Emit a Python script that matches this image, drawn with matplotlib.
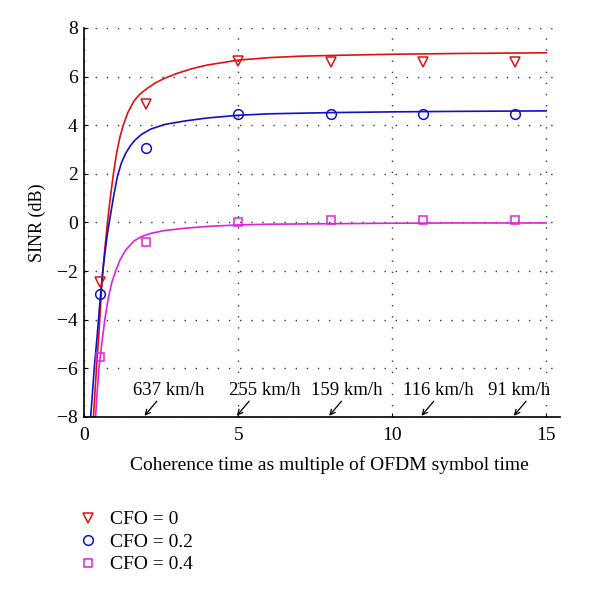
import matplotlib
matplotlib.use("Agg")
import matplotlib.pyplot as plt
from matplotlib.lines import Line2D

plt.rcParams['font.family'] = ['Liberation Serif', 'DejaVu Serif']

# simulated points
x_pts = [0.5, 2, 5, 8, 11, 14]
sim_cfo0 = [-2.45, 4.87, 6.66, 6.6, 6.6, 6.6]
sim_cfo02 = [-2.95, 3.05, 4.45, 4.47, 4.47, 4.47]
sim_cfo04 = [-5.55, -0.8, 0.04, 0.1, 0.1, 0.1]

# analytical curves
x_c0 = [0.29, 0.35, 0.41, 0.47, 0.52, 0.58, 0.63, 0.69, 0.76, 0.83, 0.94, 1.05, 1.15, 1.26,
        1.4, 1.61, 1.8, 2.04, 2.3, 2.6, 3.0, 3.5, 4.0, 5, 6, 7, 8, 10, 12, 15]
y_c0 = [-8, -6.8, -5.6, -4.55, -3.5, -2.2, -1.5, -0.72, 0.15, 0.92, 2.0, 2.9, 3.5, 4.0,
        4.5, 5.0, 5.28, 5.52, 5.74, 5.93, 6.13, 6.33, 6.48, 6.68, 6.78, 6.84, 6.87, 6.92, 6.95, 6.98]
x_c02 = [0.2, 0.26, 0.33, 0.42, 0.5, 0.58, 0.66, 0.74, 0.83, 0.95, 1.07, 1.2, 1.34, 1.5,
         1.65, 1.85, 2.15, 2.6, 3.23, 4, 5, 6, 8, 10, 12, 15]
y_c02 = [-8, -7, -5.8, -4.55, -3.3, -2.2, -1.3, -0.5, 0.2, 1.1, 1.9, 2.45, 2.85, 3.17,
         3.4, 3.62, 3.84, 4.03, 4.17, 4.3, 4.41, 4.47, 4.52, 4.55, 4.57, 4.59]
x_c04 = [0.36, 0.41, 0.47, 0.56, 0.66, 0.76, 0.88, 1.01, 1.15, 1.34, 1.61, 1.85, 2.15, 2.6,
         3.23, 4, 5, 6, 8, 10, 12, 15]
y_c04 = [-8, -7, -6, -5, -4, -3.2, -2.5, -2.0, -1.55, -1.13, -0.76, -0.58, -0.45, -0.33,
         -0.24, -0.16, -0.1, -0.07, -0.05, -0.03, -0.02, -0.02]

speed_labels = ['637 km/h', '255 km/h', '159 km/h', '116 km/h', '91 km/h']
speed_x = [2, 5, 8, 11, 14]
label_x = [2.75, 5.87, 8.52, 11.5, 14.12]

legend_labels = ['CFO = 0', 'CFO = 0.2', 'CFO = 0.4']

red = '#e01010'
blue = '#1010c8'
mag = '#e020e0'

fig = plt.figure(figsize=(6, 5.93), dpi=100)
ax = fig.add_axes([0.1408, 0.2968, 0.7925, 0.656])

ax.plot(x_c0, y_c0, color=red, lw=1.2)
ax.plot(x_c02, y_c02, color=blue, lw=1.2)
ax.plot(x_c04, y_c04, color=mag, lw=1.2)
ms = 7
ax.plot(x_pts, sim_cfo0, ls='none', marker='v', mfc='none', mec=red, ms=ms, mew=1.1)
ax.plot(x_pts, sim_cfo02, ls='none', marker='o', mfc='none', mec=blue, ms=ms, mew=1.1)
ax.plot(x_pts, sim_cfo04, ls='none', marker='s', mfc='none', mec=mag, ms=6, mew=1.1)

for lab, sx, lx in zip(speed_labels, speed_x, label_x):
    ax.text(lx, -6.9, lab, ha='center', va='center', fontsize=13.5)
    ax.annotate('', xy=(sx - 0.05, -7.95), xytext=(sx + 0.35, -7.35),
                arrowprops=dict(arrowstyle='->', color='black', lw=0.9,
                                shrinkA=0, shrinkB=0, mutation_scale=9))

ax.set_xlim(0, 15.45)
ax.set_ylim(-8, 8)
ax.set_xticks([0, 5, 10, 15])
ax.set_yticks(range(-8, 9, 2))
ax.set_yticklabels([str(v).replace('-', '\u2212') for v in range(-8, 9, 2)])
ax.grid(True, color='#333333', lw=1.0, ls=(0, (1, 7)))
ax.set_axisbelow(True)
for s in ['top', 'right']:
    ax.spines[s].set_visible(False)
for s in ['left', 'bottom']:
    ax.spines[s].set_linewidth(1.2)
ax.tick_params(direction='in', length=3, labelsize=14)
ax.tick_params(axis='x', pad=7)
ax.tick_params(axis='y', pad=5)

ax.set_xlabel('Coherence time as multiple of OFDM symbol time', fontsize=14, labelpad=9)
ax.xaxis.label.set_x(0.516)
ax.set_ylabel('SINR (dB)', fontsize=13, labelpad=8)

handles = [Line2D([], [], ls='none', marker='v', mfc='none', mec=red, ms=ms, mew=1.1),
           Line2D([], [], ls='none', marker='o', mfc='none', mec=blue, ms=ms, mew=1.1),
           Line2D([], [], ls='none', marker='s', mfc='none', mec=mag, ms=6, mew=1.1)]
fig.legend(handles, legend_labels, loc='upper left', bbox_to_anchor=(0.115, 1 - 503 / 593),
           frameon=False, fontsize=14, handletextpad=0.5, labelspacing=0.25,
           handlelength=1.2, borderaxespad=0)

fig.savefig('out.png', dpi=100)
